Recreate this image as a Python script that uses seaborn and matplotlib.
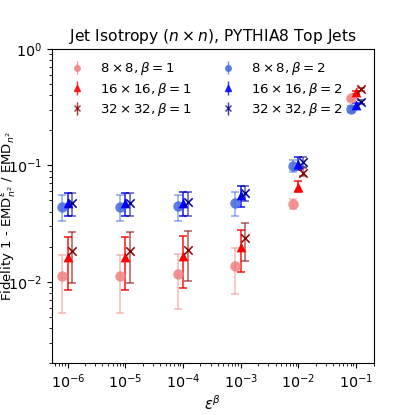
import numpy as np
import matplotlib
matplotlib.use("Agg")
import matplotlib.pyplot as plt
import seaborn as sns

# ---- data -------------------------------------------------------------
eps_beta = [1e-6, 1e-5, 1e-4, 1e-3, 1e-2, 1e-1]
grid_labels = ["8", "16", "32"]

# beta = 1
fid_8_b1 = [0.0113, 0.0113, 0.0116, 0.0137, 0.0468, 0.376]
lo_8_b1 = [0.0054, 0.0054, 0.0058, 0.0078, 0.0419, 0.362]
hi_8_b1 = [0.0171, 0.0171, 0.0174, 0.0196, 0.0517, 0.390]

fid_16_b1 = [0.0164, 0.0164, 0.0167, 0.0200, 0.0650, 0.424]
lo_16_b1 = [0.0085, 0.0085, 0.0088, 0.0122, 0.0589, 0.410]
hi_16_b1 = [0.0241, 0.0241, 0.0245, 0.0280, 0.0730, 0.438]

fid_32_b1 = [0.0183, 0.0183, 0.0187, 0.0236, 0.0865, 0.450]
lo_32_b1 = [0.0098, 0.0098, 0.0101, 0.0150, 0.0803, 0.436]
hi_32_b1 = [0.0266, 0.0266, 0.0272, 0.0321, 0.0940, 0.465]

# beta = 2
fid_8_b2 = [0.0443, 0.0443, 0.0445, 0.0477, 0.0980, 0.308]
lo_8_b2 = [0.0333, 0.0333, 0.0335, 0.0365, 0.0876, 0.290]
hi_8_b2 = [0.0555, 0.0555, 0.0557, 0.0586, 0.1110, 0.326]

fid_16_b2 = [0.0473, 0.0473, 0.0478, 0.0551, 0.1020, 0.329]
lo_16_b2 = [0.0364, 0.0364, 0.0368, 0.0443, 0.0919, 0.312]
hi_16_b2 = [0.0583, 0.0583, 0.0588, 0.0660, 0.1180, 0.346]

fid_32_b2 = [0.0475, 0.0475, 0.0485, 0.0582, 0.1070, 0.351]
lo_32_b2 = [0.0364, 0.0364, 0.0370, 0.0490, 0.0960, 0.334]
hi_32_b2 = [0.0583, 0.0583, 0.0595, 0.0660, 0.1180, 0.368]

# ---- style ------------------------------------------------------------
sns.set_style("ticks")
plt.rcParams["font.family"] = ["DejaVu Sans"]
plt.rcParams["mathtext.fontset"] = "dejavusans"
for k in ["text.color", "axes.labelcolor", "xtick.color", "ytick.color"]:
    plt.rcParams[k] = "black"

fig, ax = plt.subplots(figsize=(4.15, 4.15), dpi=100)
fig.subplots_adjust(left=0.125, right=0.9, bottom=0.125, top=0.882)

dodge = {"8": 0.8, "16": 1.0, "32": 1.2}

series = [
    ("8", 1, fid_8_b1, lo_8_b1, hi_8_b1, "lightcoral", "o", 7.5, 0.5),
    ("16", 1, fid_16_b1, lo_16_b1, hi_16_b1, "red", "^", 7, 0.85),
    ("32", 1, fid_32_b1, lo_32_b1, hi_32_b1, "darkred", "x", 6, 0.6),
    ("8", 2, fid_8_b2, lo_8_b2, hi_8_b2, "royalblue", "o", 7.5, 0.55),
    ("16", 2, fid_16_b2, lo_16_b2, hi_16_b2, "blue", "^", 7, 0.85),
    ("32", 2, fid_32_b2, lo_32_b2, hi_32_b2, "darkblue", "x", 6, 0.6),
]

handles = []
for n, beta, y, lo, hi, col, mk, ms, ealpha in series:
    x = np.array(eps_beta) * dodge[n]
    y = np.array(y)
    yerr = np.vstack([y - np.array(lo), np.array(hi) - y])
    ax.errorbar(x, y, yerr=yerr, fmt="none", ecolor=col, alpha=ealpha,
                elinewidth=1.2, capsize=3, capthick=1.2)
    sns.scatterplot(x=x, y=y, ax=ax, color=col, marker=mk, s=ms ** 2,
                    linewidth=1.1 if mk == "x" else 0, edgecolor=col,
                    alpha=0.85 if mk == "o" else 1.0, legend=False, zorder=3)
    h = ax.errorbar([], [], yerr=[], fmt=mk, color=col, markersize=4,
                    elinewidth=1.0, capsize=2, alpha=0.8)
    handles.append((h, f"${n}\\times{n}, \\beta={beta}$"))

ax.set_xscale("log")
ax.set_yscale("log")
ax.set_xlim(5.3e-7, 0.2)
ax.set_ylim(2e-3, 1.0)

ax.set_title(r"Jet Isotropy ($n\times n$), PYTHIA8 Top Jets", fontsize=11.2)
ax.set_xlabel(r"$\epsilon^{\beta}$", fontsize=10.5, labelpad=2)
ax.set_ylabel(r"Fidelity 1 - EMD$^{\epsilon}_{n^2}$ / EMD$_{n^2}$", fontsize=9.5)
ax.yaxis.set_label_coords(-0.104, 0.47)
ax.tick_params(axis="both", which="major", labelsize=10.3)

ax.legend([h for h, _ in handles], [l for _, l in handles], ncol=2,
          loc="upper left", frameon=False, fontsize=9.6,
          handletextpad=0.75, columnspacing=1.75, borderaxespad=0.45,
          labelspacing=0.25, bbox_to_anchor=(0.0, 1.0))

for s in ax.spines.values():
    s.set_color("black")
    s.set_linewidth(0.8)

fig.savefig("out.png", dpi=100)
